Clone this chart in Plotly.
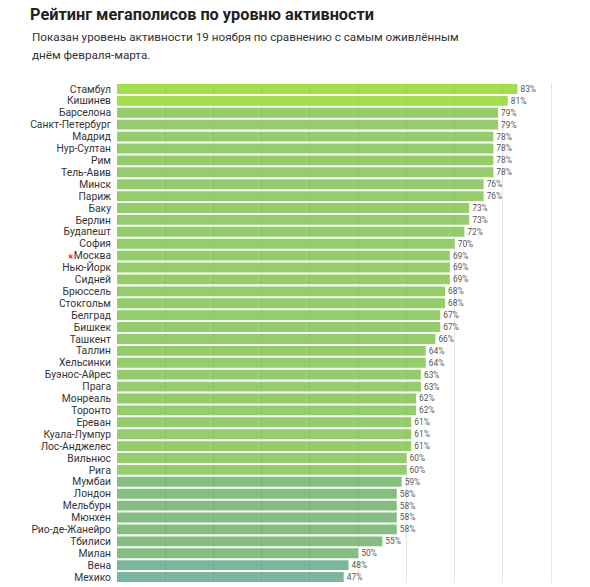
import plotly.graph_objects as go

cities = ["Стамбул", "Кишинев", "Барселона", "Санкт-Петербург", "Мадрид", "Нур-Султан",
          "Рим", "Тель-Авив", "Минск", "Париж", "Баку", "Берлин", "Будапешт", "София",
          "Москва", "Нью-Йорк", "Сидней", "Брюссель", "Стокгольм", "Белград", "Бишкек",
          "Ташкент", "Таллин", "Хельсинки", "Буэнос-Айрес", "Прага", "Монреаль", "Торонто",
          "Ереван", "Куала-Лумпур", "Лос-Анджелес", "Вильнюс", "Рига", "Мумбаи", "Лондон",
          "Мельбурн", "Мюнхен", "Рио-де-Жанейро", "Тбилиси", "Милан", "Вена", "Мехико"]
activity = [83, 81, 79, 79, 78, 78, 78, 78, 76, 76, 73, 73, 72, 70,
            69, 69, 69, 68, 68, 67, 67, 66, 64, 64, 63, 63, 62, 62,
            61, 61, 61, 60, 60, 59, 58, 58, 58, 58, 55, 50, 48, 47]
x_ticks = [0, 10, 20, 30, 40, 50, 60, 70, 80, 90]

def bar_color(v):
    if v >= 80:
        return "rgba(125,208,2,0.7)"
    if v >= 60:
        return "rgba(102,184,42,0.7)"
    if v >= 50:
        return "rgba(82,161,76,0.7)"
    return "rgba(65,152,114,0.7)"

colors = [bar_color(v) for v in activity]
ticktext = [("<span style='color:#e8413a;font-size:8px'>★</span>" + c) if c == "Москва" else c
            for c in cities]

W, H = 590, 587
L, T = 117, 83
plot_w = 438.6
plot_h = 500
R = W - L - plot_w
B = H - T - plot_h

fig = go.Figure(go.Bar(
    x=activity,
    y=cities,
    orientation="h",
    marker=dict(color=colors, line=dict(width=0)),
    text=[f"{v}%" for v in activity],
    textposition="outside",
    textfont=dict(size=8.5, color="#555555", family="Roboto"),
    cliponaxis=False,
))

fig.update_layout(
    width=W, height=H,
    margin=dict(l=L, r=R, t=T, b=B, autoexpand=False),
    paper_bgcolor="white",
    plot_bgcolor="white",
    bargap=0.17,
    showlegend=False,
    font=dict(family="Roboto", color="#333333"),
    title=dict(
        text="<b>Рейтинг мегаполисов по уровню активности</b>",
        x=30 / W, xref="container", xanchor="left",
        y=1 - 14 / H, yref="container", yanchor="middle",
        font=dict(size=16.3, color="#222222", family="Roboto"),
    ),
    xaxis=dict(
        range=[0, 91],
        tickvals=x_ticks,
        showticklabels=False,
        showgrid=True,
        gridcolor="#e6e6e6",
        gridwidth=1,
        zeroline=False,
        showline=False,
        fixedrange=True,
    ),
    yaxis=dict(
        categoryorder="array",
        categoryarray=cities,
        tickvals=cities,
        ticktext=ticktext,
        autorange="reversed",
        showgrid=False,
        showline=False,
        zeroline=False,
        ticks="",
        ticklabelstandoff=5,
        tickfont=dict(size=10.3, color="#333333", family="Roboto"),
        fixedrange=True,
    ),
)

sub_x = (30 - L) / plot_w
for line, ypix in [("Показан уровень активности 19 ноября по сравнению с самым оживлённым", 37),
                   ("днём февраля-марта.", 55)]:
    fig.add_annotation(
        text=line, xref="paper", yref="paper",
        x=sub_x, y=(T + plot_h - ypix) / plot_h,
        xanchor="left", yanchor="middle", showarrow=False,
        font=dict(size=11.7, color="#333333", family="Roboto"),
    )

fig.write_html("out.html", config={"displayModeBar": False},
               post_script="document.body.style.margin='0';document.body.style.overflow='hidden';")
